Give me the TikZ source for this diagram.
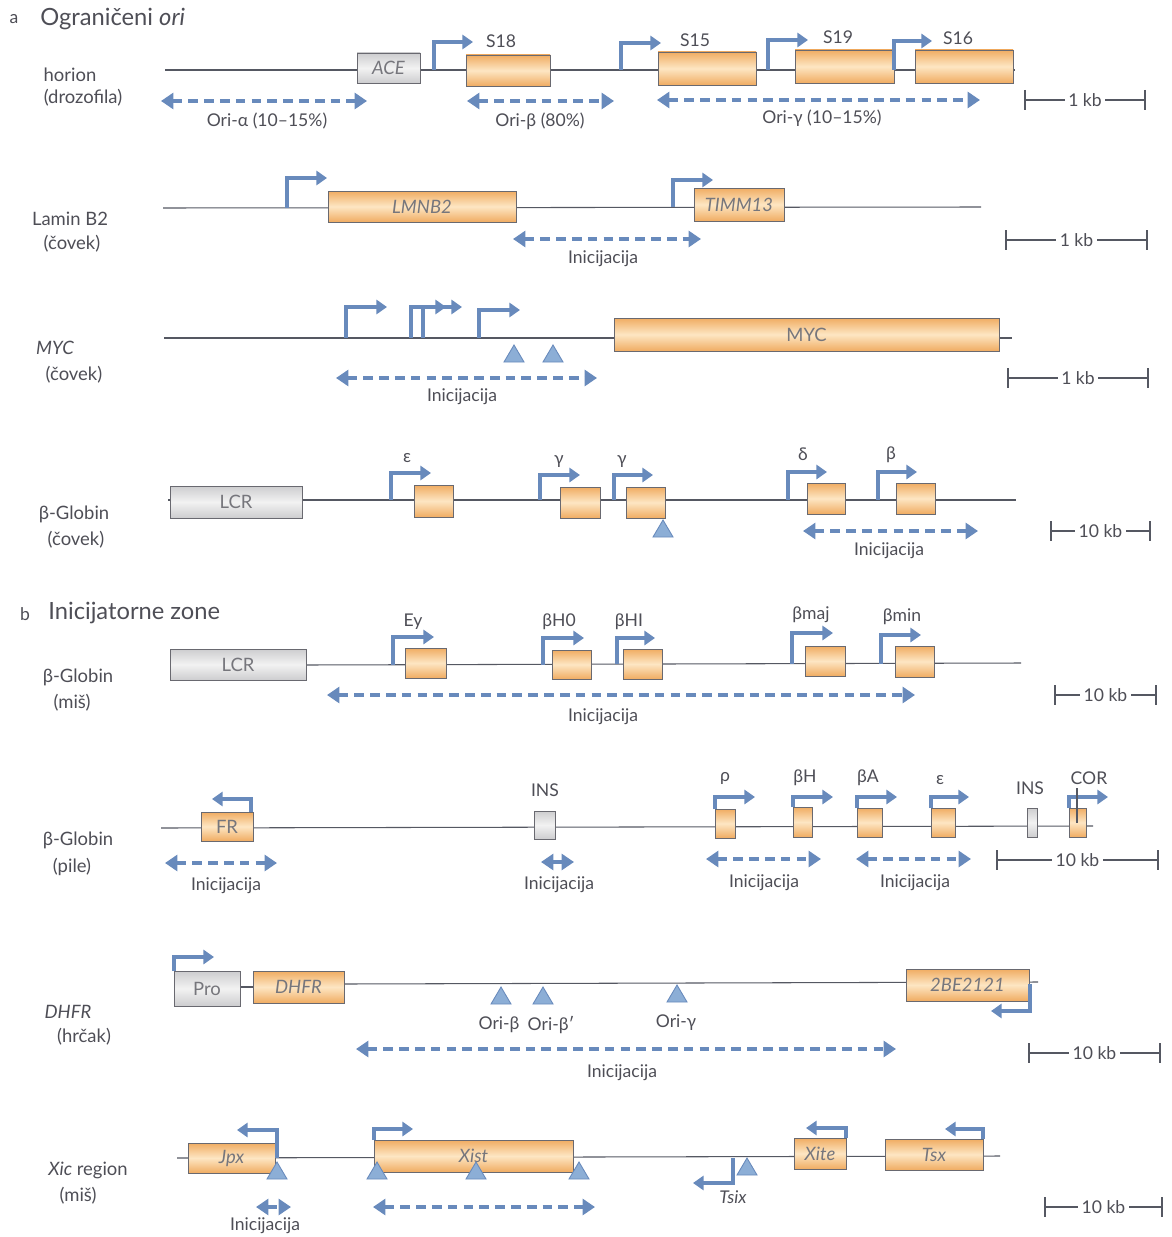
\documentclass[tikz,border=0pt]{standalone}
\usepackage{fontspec}
\setmainfont{Lato}
\usepackage{tikz}
\usetikzlibrary{arrows.meta,fit}
\definecolor{geneOrange}{RGB}{240,172,98}
\definecolor{geneLight}{RGB}{253,230,195}
\definecolor{regLight}{RGB}{242,242,242}
\definecolor{regDark}{RGB}{205,205,207}
\definecolor{boxEdge}{RGB}{105,105,112}
\definecolor{boxText}{RGB}{118,118,124}
\definecolor{dnaGray}{RGB}{85,88,98}
\definecolor{promBlue}{RGB}{104,138,188}
\definecolor{triBlue}{RGB}{140,174,214}
\definecolor{txtGray}{RGB}{78,78,86}

% box from corner to corner, named, with its text centred on it
\newcommand{\gbox}[7][gene]{\node[#1,fit={(#3,#4) (#5,#6)}] (#2) {};
  \node[boxtxt] (#2-t) at (#2.center) {#7};}
% origin marker
\newcommand{\oritri}[2]{\draw[oritri] (#1,#2) -- ++(-10,17) -- ++(20,0) -- cycle;}
% scale bar: name, x1, x2, y, text
\newcommand{\kb}[5]{%
  \draw[bar] (#2,#4-10) -- (#2,#4+10) (#2,#4) -- (#3,#4) (#3,#4-10) -- (#3,#4+10);
  \node[lbl,fill=white,inner sep=2pt] (#1) at ({(#2+#3)/2},#4) {#5};}

\begin{document}
\begin{tikzpicture}[
  x=0.02cm, y=-0.02cm,
  every node/.style={font=\fontsize{10}{12}\selectfont},
  dna/.style={draw=dnaGray,line width=0.6pt},
  gene/.style={draw=boxEdge,line width=0.5pt,inner sep=0pt,top color=geneOrange,bottom color=geneOrange,middle color=geneLight},
  reg/.style={draw=boxEdge,line width=0.5pt,inner sep=0pt,top color=regDark,bottom color=regDark,middle color=regLight},
  boxtxt/.style={text=boxText,inner sep=0pt,font=\fontsize{10.5}{12}\selectfont\itshape},
  prom/.style={draw=promBlue,line width=1.8pt,-{Triangle[width=8pt,length=6pt]}},
  ini/.style={draw=promBlue,line width=2.4pt,dash pattern=on 5.5pt off 3.5pt,{Triangle[width=9pt,length=7pt]}-{Triangle[width=9pt,length=7pt]}},
  oritri/.style={draw=promBlue,fill=triBlue,line width=0.5pt},
  bar/.style={draw=dnaGray,line width=0.6pt},
  lbl/.style={text=txtGray,inner sep=1pt},
  rowlbl/.style={text=txtGray,inner sep=1pt,font=\fontsize{10.5}{12}\selectfont},
  title/.style={text=txtGray,inner sep=0pt,anchor=west,font=\fontsize{13.5}{15}\selectfont}
]
  \useasboundingbox (0,0) rectangle (1171,1237);

  % a: restricted origins
  \node[lbl] (pa) at (14,19) {a};
  \node[title] (ta) at (40,19) {Ograničeni \textit{ori}};

  % horion
  \node[rowlbl] (hor1) at (70,75) {horion};
  \node[rowlbl] (hor2) at (83,98) {(drozofila)};
  \draw[dna] (165,70) -- (1015,70);
  \gbox[reg]{ace}{357}{53}{420}{83}{ACE}
  \gbox{s18}{466}{55}{550}{86}{}
  \gbox{s15}{658}{52}{756}{85}{}
  \gbox{s19}{795}{50}{894}{83}{}
  \gbox{s16}{915}{50}{1013}{83}{}
  \draw[prom] (434,70) |- (473,42);
  \draw[prom] (621,70) |- (661,43);
  \draw[prom] (768,70) |- (808,40);
  \draw[prom] (894,70) |- (932,41);
  \node[lbl] (nS18) at (501,41) {S18};
  \node[lbl] (nS15) at (695,40) {S15};
  \node[lbl] (nS19) at (838,37) {S19};
  \node[lbl] (nS16) at (958,38) {S16};
  \draw[ini] (161,101) -- (367,101);
  \draw[ini] (467,101) -- (614,101);
  \draw[ini] (657,100) -- (980,100);
  \node[lbl] (oriA) at (267,121) {Ori-α (10–15\%)};
  \node[lbl] (oriB) at (540,121) {Ori-β (80\%)};
  \node[lbl] (oriG) at (822,118) {Ori-γ (10–15\%)};
  \kb{kbA}{1025}{1145}{100}{1 kb}

  % Lamin B2
  \node[rowlbl] (lam1) at (70,219) {Lamin B2};
  \node[rowlbl] (lam2) at (72,244) {(čovek)};
  \draw[dna] (163,208) -- (981,207);
  \draw[prom] (287,208) |- (327,178);
  \gbox{lmnb}{328}{191}{516}{222}{LMNB2}
  \draw[prom] (673,207) |- (713,180);
  \gbox{timm}{694}{188}{784}{221}{TIMM13}
  \draw[ini] (513,239) -- (701,239);
  \node[lbl] (iniL) at (603,259) {Inicijacija};
  \kb{kbB}{1006}{1147}{240}{1 kb}

  % MYC
  \node[rowlbl] (myc1) at (55,348) {\itshape MYC};
  \node[rowlbl] (myc2) at (74,375) {(čovek)};
  \draw[dna] (164,338) -- (1012,338);
  \draw[prom] (346,338) |- (387,307);
  \draw[prom] (411,338) |- (446,307);
  \draw[prom] (423,338) |- (462,307);
  \draw[prom] (479,338) |- (520,310);
  \gbox{myc}{614}{318}{999}{351}{\upshape MYC}
  \oritri{514}{345} \oritri{553}{345}
  \draw[ini] (336,378) -- (597,378);
  \node[lbl] (iniM) at (462,397) {Inicijacija};
  \kb{kbC}{1008}{1148}{378}{1 kb}

  % beta-globin, human
  \node[rowlbl] (hbg1) at (74,514) {β-Globin};
  \node[rowlbl] (hbg2) at (76,540) {(čovek)};
  \draw[dna] (168,500) -- (1016,500);
  \gbox[reg]{lcrH}{170}{486}{302}{518}{\upshape LCR}
  \draw[prom] (391,500) |- (431,473);
  \gbox{hEps}{414}{485}{453}{517}{}
  \draw[prom] (540,500) |- (580,475);
  \gbox{hGa}{560}{487}{600}{518}{}
  \draw[prom] (614,500) |- (653,475);
  \gbox{hGb}{626}{487}{665}{518}{}
  \oritri{663}{520}
  \draw[prom] (788,500) |- (827,472);
  \gbox{hDel}{807}{483}{845}{514}{}
  \draw[prom] (878,500) |- (917,472);
  \gbox{hBet}{896}{483}{935}{514}{}
  \node[lbl] (nHe) at (407,458) {ε};
  \node[lbl] (nHga) at (559,462) {γ};
  \node[lbl] (nHgb) at (622,462) {γ};
  \node[lbl] (nHd) at (803,454) {δ};
  \node[lbl] (nHb) at (891,455) {β};
  \draw[ini] (803,531) -- (978,531);
  \node[lbl] (iniH) at (889,551) {Inicijacija};
  \kb{kbD}{1051}{1150}{531}{10 kb}

  % b: initiation zones
  \node[lbl] (pb) at (25,614) {b};
  \node[title] (tb) at (48,613) {Inicijatorne zone};

  % beta-globin, mouse
  \node[rowlbl] (mbg1) at (78,677) {β-Globin};
  \node[rowlbl] (mbg2) at (72,703) {(miš)};
  \draw[dna] (306,665) -- (1021,663);
  \gbox[reg]{lcrM}{170}{649}{306}{680}{\upshape LCR}
  \draw[prom] (393,665) |- (434,637);
  \gbox{mEy}{405}{648}{446}{678}{}
  \draw[prom] (543,665) |- (584,638);
  \gbox{mH0}{552}{650}{591}{679}{}
  \draw[prom] (617,664) |- (655,638);
  \gbox{mH1}{623}{649}{662}{679}{}
  \draw[prom] (792,664) |- (833,633);
  \gbox{mMaj}{805}{646}{845}{676}{}
  \draw[prom] (881,664) |- (921,635);
  \gbox{mMin}{895}{646}{934}{677}{}
  \node[lbl] (nEy) at (413,622) {Ey};
  \node[lbl] (nH0) at (559,622) {βH0};
  \node[lbl] (nH1) at (629,622) {βHI};
  \node[lbl] (nMaj) at (811,615) {βmaj};
  \node[lbl] (nMin) at (902,617) {βmin};
  \draw[ini] (327,695) -- (915,695);
  \node[lbl] (iniMm) at (603,717) {Inicijacija};
  \kb{kbE}{1055}{1156}{695}{10 kb}

  % beta-globin, chicken
  \node[rowlbl] (cbg1) at (78,840) {β-Globin};
  \node[rowlbl] (cbg2) at (72,867) {(pile)};
  \draw[dna] (161,828) -- (1093,826);
  \gbox{fr}{201}{812}{253}{841}{\upshape FR}
  \draw[prom] (251,812) |- (212,799);
  \gbox[reg]{insA}{534}{811}{555}{839}{}
  \gbox{cRho}{715}{809}{735}{838}{}
  \draw[prom] (715,809) |- (755,797);
  \gbox{cBH}{793}{807}{812}{837}{}
  \draw[prom] (793,807) |- (833,797);
  \gbox{cBA}{857}{808}{882}{837}{}
  \draw[prom] (857,808) |- (897,797);
  \gbox{cEps}{931}{808}{955}{837}{}
  \draw[prom] (931,808) |- (969,797);
  \gbox[reg]{insB}{1027}{808}{1037}{837}{}
  \gbox{cor}{1069}{808}{1086}{837}{}
  \draw[prom] (1069,808) |- (1108,797);
  \draw[dna] (1077,788) -- (1077,823);
  \node[lbl] (nInsA) at (545,790) {INS};
  \node[lbl] (nRho) at (725,778) {ρ};
  \node[lbl] (nBH) at (805,778) {βH};
  \node[lbl] (nBA) at (868,778) {βA};
  \node[lbl] (nCe) at (940,780) {ε};
  \node[lbl] (nInsB) at (1030,788) {INS};
  \node[lbl] (nCor) at (1089,778) {COR};
  \draw[ini] (165,863) -- (277,863);
  \draw[ini] (541,862) -- (574,862);
  \draw[ini] (706,859) -- (821,859);
  \draw[ini] (856,859) -- (971,859);
  \node[lbl] (iniC1) at (226,886) {Inicijacija};
  \node[lbl] (iniC2) at (559,885) {Inicijacija};
  \node[lbl] (iniC3) at (764,883) {Inicijacija};
  \node[lbl] (iniC4) at (915,883) {Inicijacija};
  \kb{kbF}{997}{1158}{860}{10 kb}

  % DHFR
  \node[rowlbl] (dh1) at (68,1012) {\itshape DHFR};
  \node[rowlbl] (dh2) at (84,1037) {(hrčak)};
  \draw[dna] (240,987) -- (253,987);
  \draw[dna] (344,984) -- (1038,982);
  \gbox[reg]{pro}{174}{971}{240}{1006}{\upshape Pro}
  \draw[prom] (174,971) |- (214,957);
  \gbox{dhfr}{253}{971}{344}{1003}{DHFR}
  \oritri{501}{987} \oritri{543}{987} \oritri{677}{985}
  \node[lbl] (nOb) at (499,1025) {Ori-β};
  \node[lbl] (nObb) at (551,1025) {Ori-β′};
  \node[lbl] (nOg) at (676,1023) {Ori-γ};
  \gbox{bez}{906}{969}{1029}{1001}{2BE2121}
  \draw[prom] (1030,984) |- (991,1011);
  \draw[ini] (356,1049) -- (896,1049);
  \node[lbl] (iniD) at (622,1073) {Inicijacija};
  \kb{kbG}{1029}{1160}{1053}{10 kb}

  % Xic region
  \node[rowlbl] (xic1) at (88,1170) {\textit{Xic} region};
  \node[rowlbl] (xic2) at (78,1196) {(miš)};
  \draw[dna] (177,1158) -- (1000,1156);
  \gbox{jpx}{188}{1143}{275}{1173}{Jpx}
  \draw[prom] (277,1158) |- (237,1130);
  \oritri{277}{1162}
  \gbox{xist}{374}{1140}{573}{1172}{Xist}
  \draw[prom] (374,1140) |- (413,1129);
  \oritri{377}{1162} \oritri{476}{1162} \oritri{579}{1162}
  \draw[prom] (733,1158) |- (693,1183);
  \node[lbl] (nTsix) at (733,1197) {\itshape Tsix};
  \oritri{747}{1158}
  \gbox{xite}{794}{1138}{846}{1169}{Xite}
  \draw[prom] (846,1138) |- (806,1128);
  \gbox{tsx}{885}{1139}{983}{1170}{Tsx}
  \draw[prom] (983,1139) |- (945,1129);
  \draw[ini] (256,1207) -- (291,1207);
  \node[lbl] (iniX) at (265,1226) {Inicijacija};
  \draw[ini] (373,1207) -- (595,1207);
  \kb{kbH}{1045}{1162}{1207}{10 kb}
\end{tikzpicture}
\end{document}
